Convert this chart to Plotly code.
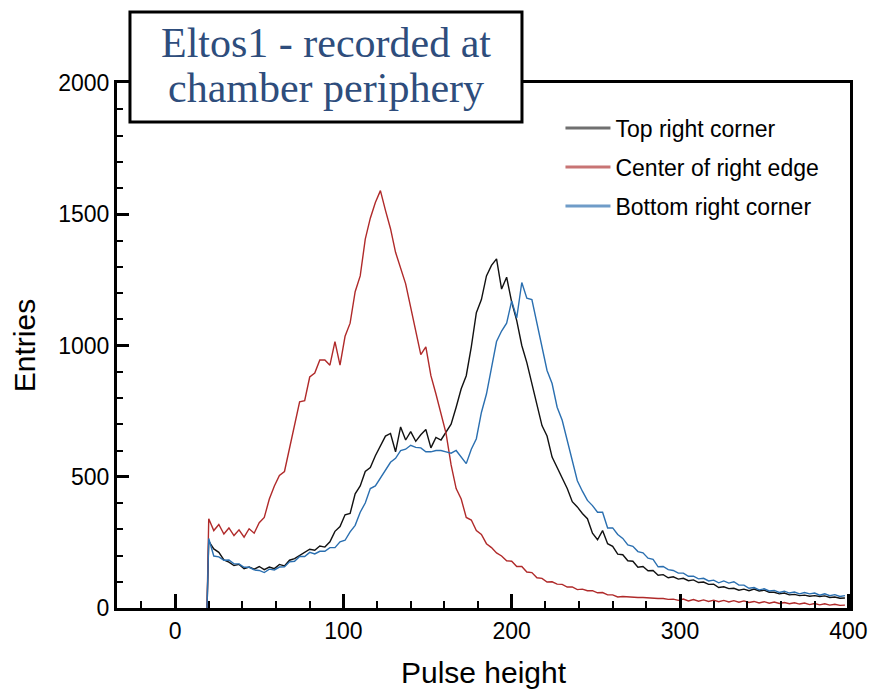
import plotly.graph_objects as go

# Pulse-height bins (x) shared by the three histograms
pulse_height = [19] + list(range(20, 401, 3))

top_right_corner = [
    0, 255, 225, 212, 183, 175, 162, 166, 150, 156,
    148, 158, 146, 156, 150, 166, 160, 182, 188, 200,
    212, 224, 220, 236, 232, 252, 292, 310, 355, 360,
    435, 465, 520, 535, 580, 620, 655, 665, 595, 690,
    640, 672, 635, 660, 680, 610, 650, 640, 670, 700,
    765, 835, 885, 995, 1125, 1175, 1265, 1305, 1330, 1215,
    1260, 1165, 1095, 1000, 935, 850, 775, 695, 655, 575,
    535, 490, 455, 405, 385, 360, 340, 285, 260, 295,
    245, 235, 205, 203, 180, 178, 155, 158, 142, 143,
    125, 127, 115, 119, 110, 113, 104, 107, 97, 99,
    90, 91, 78, 81, 74, 75, 68, 72, 66, 72,
    65, 68, 60, 60, 54, 57, 50, 52, 47, 49,
    45, 47, 44, 46, 40, 42, 37, 38,
]

center_right_edge = [
    0, 340, 295, 318, 282, 305, 276, 298, 270, 302,
    285, 325, 345, 415, 465, 505, 520, 605, 695, 785,
    790, 880, 895, 945, 945, 925, 1015, 925, 1035, 1085,
    1205, 1265, 1405, 1485, 1545, 1590, 1515, 1445, 1355, 1295,
    1235, 1145, 1055, 965, 995, 885, 815, 745, 665, 545,
    455, 415, 345, 335, 295, 280, 245, 230, 210, 198,
    180, 178, 158, 158, 137, 135, 115, 113, 99, 100,
    91, 90, 80, 80, 70, 72, 66, 66, 58, 59,
    50, 50, 42, 44, 42, 42, 40, 40, 38, 37,
    36, 36, 33, 34, 29, 34, 27, 32, 26, 31,
    25, 30, 24, 29, 23, 28, 22, 27, 21, 25,
    19, 24, 18, 23, 17, 21, 16, 20, 15, 19,
    13, 17, 12, 16, 11, 14, 10, 11,
]

bottom_right_corner = [
    0, 265, 198, 195, 182, 183, 168, 168, 155, 155,
    145, 143, 135, 148, 145, 156, 157, 176, 178, 196,
    196, 212, 206, 216, 216, 230, 230, 252, 258, 290,
    315, 365, 400, 455, 465, 495, 520, 555, 570, 600,
    605, 620, 612, 610, 595, 595, 600, 600, 595, 590,
    600, 575, 550, 605, 645, 745, 815, 915, 1015, 1055,
    1085, 1170, 1105, 1240, 1180, 1175, 1085, 1005, 905, 855,
    765, 715, 635, 565, 485, 445, 410, 390, 365, 365,
    305, 305, 280, 265, 240, 235, 215, 210, 190, 185,
    157, 158, 146, 143, 133, 133, 121, 121, 111, 113,
    103, 106, 96, 103, 95, 100, 87, 87, 75, 78,
    69, 73, 65, 67, 59, 64, 57, 61, 54, 59,
    54, 57, 49, 54, 47, 51, 44, 47,
]

series_names = ["Top right corner", "Center of right edge", "Bottom right corner"]
series_values = [top_right_corner, center_right_edge, bottom_right_corner]
line_colors = ["#111111", "#b02a2a", "#2a6fb0"]
legend_colors = ["#707070", "#c87474", "#6f9cc8"]

x_ticks = [0, 100, 200, 300, 400]
y_ticks = [0, 500, 1000, 1500, 2000]

title_lines = ["Eltos1 - recorded at", "chamber periphery"]

fig = go.Figure()
for name, vals, col in zip(series_names, series_values, line_colors):
    fig.add_trace(go.Scatter(x=pulse_height, y=vals, mode="lines",
                             line=dict(color=col, width=1.4),
                             showlegend=False, hoverinfo="skip"))
for i, (name, col) in enumerate(zip(series_names, legend_colors)):
    fig.add_trace(go.Scatter(x=[None], y=[None], mode="lines", name=name,
                             line=dict(color=col, width=3),
                             legendgroup=f"g{i}"))

axis_font = dict(family="Liberation Sans, Arial, sans-serif", size=23, color="#000")

fig.update_layout(
    width=869, height=694,
    margin=dict(l=117, r=19, t=83, b=86),
    paper_bgcolor="white", plot_bgcolor="white",
    font=axis_font,
    showlegend=True,
    legend=dict(x=0.605, y=0.955, xanchor="left", yanchor="top",
                bgcolor="rgba(0,0,0,0)", borderwidth=0,
                font=dict(family="Liberation Sans, Arial, sans-serif", size=23, color="#000"),
                tracegroupgap=6, itemwidth=45),
    xaxis=dict(range=[-34.5, 401], tickmode="array", tickvals=x_ticks,
               ticks="inside", ticklen=14, tickwidth=2.5, tickcolor="#000",
               minor=dict(dtick=20, ticks="inside", ticklen=7, tickwidth=1.5, tickcolor="#000"),
               showline=True, linewidth=3, linecolor="#000", mirror=True,
               showgrid=False, zeroline=False, automargin=False,
               title=dict(text="Pulse height", font=dict(size=30), standoff=20)),
    yaxis=dict(range=[0, 2000], tickmode="array", tickvals=y_ticks,
               ticks="inside", ticklen=12, tickwidth=2.5, tickcolor="#000",
               minor=dict(dtick=100, ticks="inside", ticklen=6, tickwidth=1.5, tickcolor="#000"),
               showline=True, linewidth=3, linecolor="#000", mirror=True,
               showgrid=False, zeroline=False, automargin=False,
               title=dict(text="Entries", font=dict(size=30), standoff=14)),
)

# title box
fig.add_shape(type="rect", xref="paper", yref="paper",
              x0=0.0177, x1=0.5525, y0=0.9257, y1=1.1352,
              line=dict(color="#000", width=3), fillcolor="white", layer="above")
for i, txt in enumerate(title_lines):
    fig.add_annotation(xref="paper", yref="paper", x=0.2851, y=1.077 - i * 0.086,
                       text=txt, showarrow=False, xanchor="center", yanchor="middle",
                       font=dict(family="Liberation Serif, Times New Roman, serif",
                                 size=42, color="#2e4d7c"))

fig.write_html("out.html")
